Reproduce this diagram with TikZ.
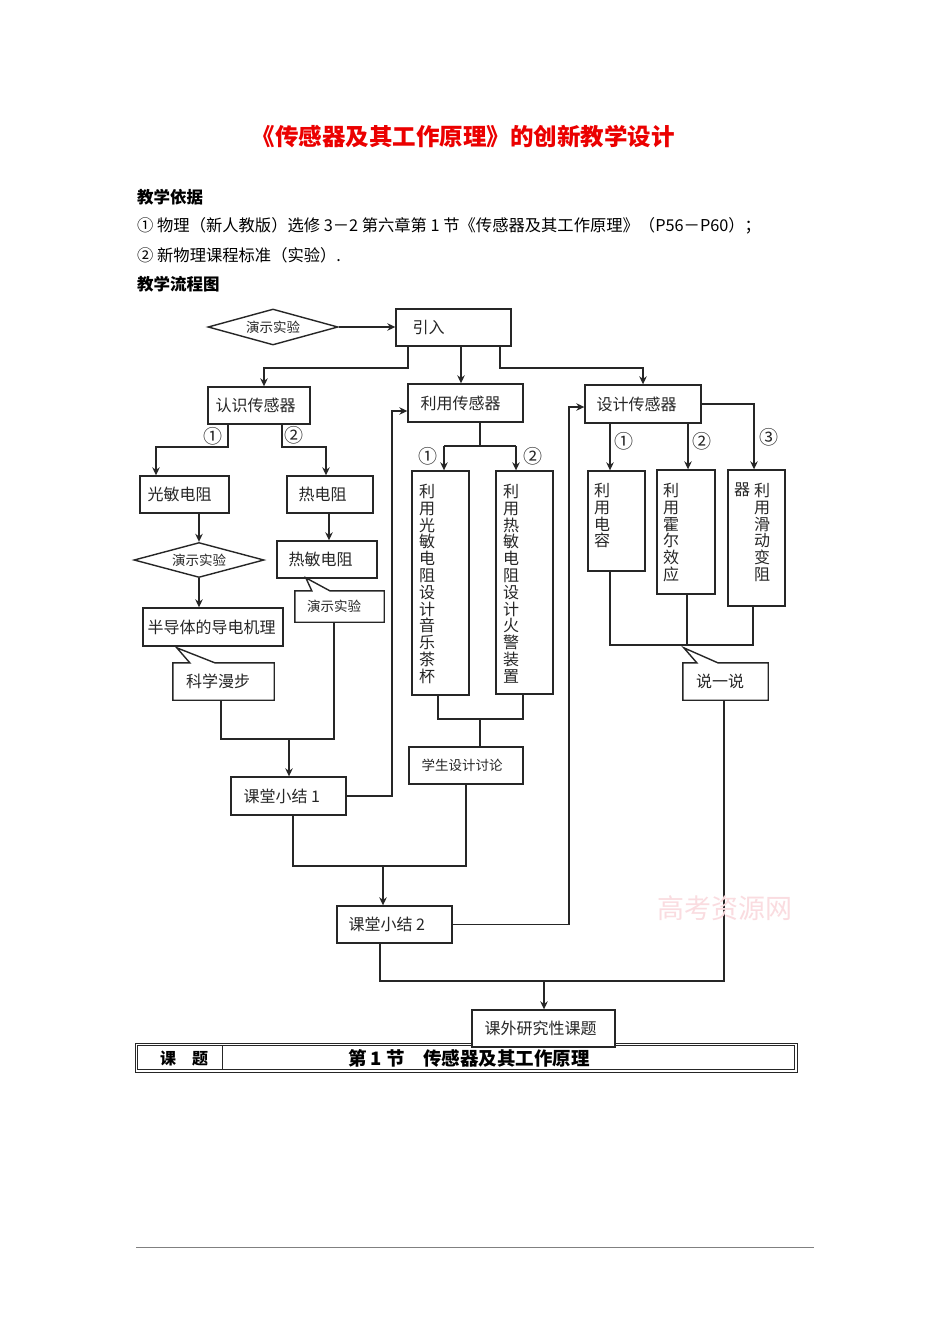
\documentclass[tikz,border=0pt]{standalone}
\usepackage{fontspec}
\setmainfont{Noto Sans CJK SC}
\usetikzlibrary{arrows.meta,shapes.geometric,calc,fit}
\begin{document}
\begin{tikzpicture}[x=1pt,y=-1pt,
  ln/.style={line width=1.2pt, draw=black!85},
  arr/.style={ln, -{Stealth[length=8pt,width=7.5pt]}},
  bx/.style={draw=black!85, line width=1.4pt, fill=white, inner sep=0pt},
  hid/.style={draw=none, inner sep=0pt},
  tx/.style={font=\fontsize{16}{18}\selectfont, text=black!85, inner sep=0pt, anchor=west},
  sm/.style={font=\fontsize{13.5}{15}\selectfont, text=black!85, inner sep=0pt},
  vt/.style={font=\fontsize{16}{16.8}\selectfont, text=black!85, inner sep=0pt, align=center, anchor=north},
  num/.style={font=\fontsize{19}{21}\selectfont, text=black!85, inner sep=0pt},
  hd/.style={font=\fontsize{16.3}{18}\selectfont, inner sep=0pt, anchor=west},
  dia/.style={bx, diamond, aspect=3.6, sm},
]
\useasboundingbox (0,0) rectangle (950,1344);
\fill[white] (0,0) rectangle (950,1344);

% ---------- header ----------
\node[font=\fontsize{23.5}{26}\selectfont\bfseries, text={rgb,255:red,235;green,0;blue,0}, inner sep=0pt] (title) at (463,137) {《传感器及其工作原理》的创新教学设计};
\node[hd, font=\fontsize{16.5}{18}\selectfont\bfseries] (h1) at (137,197) {教学依据};
\node[hd] (h2) at (137,226) {① 物理（新人教版）选修 3－2 第六章第 1 节《传感器及其工作原理》（P56－P60）；};
\node[hd] (h3) at (137,255) {② 新物理课程标准（实验）.};
\node[hd, font=\fontsize{16.5}{18}\selectfont\bfseries] (h4) at (137,284) {教学流程图};

% ---------- boxes ----------
\node[dia, minimum width=130pt, minimum height=36pt] (d1) at (273,327) {演示实验};
\node[bx, fit={(396,309) (511,346)}] (yinru) {};
\node[tx] (yinruT) at ($(yinru.west)+(17,0)$) {引入};
\node[bx, fit={(208,387) (310,424)}] (renshi) {};
\node[tx] (renshiT) at ($(renshi.west)+(8,0)$) {认识传感器};
\node[bx, fit={(408,384) (523,422)}] (liyong) {};
\node[tx] (liyongT) at ($(liyong.west)+(13,0)$) {利用传感器};
\node[bx, fit={(585,385) (701,423)}] (sheji) {};
\node[tx] (shejiT) at ($(sheji.west)+(12,0)$) {设计传感器};

\node[bx, fit={(140,476) (229,513)}] (guangmin) {};
\node[tx] (guangminT) at ($(guangmin.west)+(8,0)$) {光敏电阻};
\node[bx, fit={(287,476) (373,513)}] (redianzu) {};
\node[tx] (redianzuT) at ($(redianzu.west)+(12,0)$) {热电阻};
\node[dia, minimum width=130pt, minimum height=35pt] (d2) at (199,560) {演示实验};
\node[bx, fit={(277,541) (377,578)}] (remin) {};
\node[tx] (reminT) at ($(remin.west)+(12,0)$) {热敏电阻};
\node[bx, fit={(143,608) (283,646)}] (bandaoti) {};
\node[tx] (bandaotiT) at ($(bandaoti.west)+(5,0)$) {半导体的导电机理};

% callouts
\node[hid, fit={(173,663) (274,700)}] (kexue) {};
\draw[bx] (kexue.north west) -- ($(kexue.north west)+(17,0)$) -- ($(kexue.north west)+(4,-15)$) -- ($(kexue.north west)+(42,0)$) -- (kexue.north east) -- (kexue.south east) -- (kexue.south west) -- cycle;
\node[tx] (kexueT) at ($(kexue.west)+(13,0)$) {科学漫步};
\node[hid, fit={(295,591) (384,622)}] (yanshi) {};
\draw[bx] (yanshi.north west) -- ($(yanshi.north west)+(17,0)$) -- ($(yanshi.north west)+(11,-13)$) -- ($(yanshi.north west)+(35,0)$) -- (yanshi.north east) -- (yanshi.south east) -- (yanshi.south west) -- cycle;
\node[sm, anchor=west] (yanshiT) at ($(yanshi.west)+(12,0)$) {演示实验};

\node[bx, fit={(231,777) (346,815)}] (xj1) {};
\node[tx] (xj1T) at ($(xj1.west)+(13,0)$) {课堂小结 1};

\node[bx, fit={(412,471) (469,695)}] (v1) {};
\node[vt] (v1T) at (427,484) {利\\用\\光\\敏\\电\\阻\\设\\计\\音\\乐\\茶\\杯};
\node[bx, fit={(496,471) (553,694)}] (v2) {};
\node[vt] (v2T) at (511,484) {利\\用\\热\\敏\\电\\阻\\设\\计\\火\\警\\装\\置};
\node[bx, fit={(409,747) (523,784)}] (taolun) {};
\node[sm, anchor=west] (taolunT) at ($(taolun.west)+(13,0)$) {学生设计讨论};

\node[bx, fit={(337,906) (452,943)}] (xj2) {};
\node[tx] (xj2T) at ($(xj2.west)+(12,0)$) {课堂小结 2};

\node[bx, fit={(588,471) (645,571)}] (dianrong) {};
\node[vt] (dianrongT) at (602,483) {利\\用\\电\\容};
\node[bx, fit={(657,470) (715,594)}] (huoer) {};
\node[vt] (huoerT) at (671,483) {利\\用\\霍\\尔\\效\\应};
\node[bx, fit={(728,470) (785,606)}] (huadong) {};
\node[vt] (huadongT) at (762,483) {利\\用\\滑\\动\\变\\阻};
\node[vt] (huadongT2) at (742,483) {器};

\node[hid, fit={(683,663) (768,700)}] (shuo) {};
\draw[bx] (shuo.north west) -- ($(shuo.north west)+(14,0)$) -- ($(shuo.north west)+(1,-15)$) -- ($(shuo.north west)+(35,0)$) -- (shuo.north east) -- (shuo.south east) -- (shuo.south west) -- cycle;
\node[tx] (shuoT) at ($(shuo.west)+(13,0)$) {说一说};

% numbers
\node[num] (n1) at (213,436) {①};
\node[num] (n2) at (294,435) {②};
\node[num] (n3) at (428,456) {①};
\node[num] (n4) at (533,456) {②};
\node[num] (n5) at (624,441) {①};
\node[num] (n6) at (702,441) {②};
\node[num] (n7) at (769,437) {③};

% ---------- connectors ----------
\draw[arr] (d1.east) -- (d1.east -| yinru.west);
\coordinate (c1) at (408,368); \coordinate (c1b) at (264,368);
\draw[arr] (c1 |- yinru.south) -- (c1) -- (c1b) -- (c1b |- renshi.north);
\coordinate (c2) at (461,368);
\draw[arr] (c2 |- yinru.south) -- (c2 |- liyong.north);
\coordinate (c3) at (500,368); \coordinate (c3b) at (643,368);
\draw[arr] (c3 |- yinru.south) -- (c3) -- (c3b) -- (c3b |- sheji.north);

\coordinate (c4) at (228,447); \coordinate (c4b) at (156,447);
\draw[arr] (c4 |- renshi.south) -- (c4) -- (c4b) -- (c4b |- guangmin.north);
\coordinate (c5) at (282,447); \coordinate (c5b) at (326,447);
\draw[arr] (c5 |- renshi.south) -- (c5) -- (c5b) -- (c5b |- redianzu.north);

\draw[arr] (d2.north |- guangmin.south) -- (d2.north);
\draw[arr] (d2.south) -- (d2.south |- bandaoti.north);
\coordinate (c5c) at (329,500);
\draw[arr] (c5c |- redianzu.south) -- (c5c |- remin.north);

\coordinate (c6) at (221,739); \coordinate (c6b) at (334,739);
\draw[ln] (c6 |- kexue.south) -- (c6) -- (c6b) -- (c6b |- yanshi.south);
\coordinate (c7) at (289,739);
\draw[arr] (c7) -- (c7 |- xj1.north);

\coordinate (c8) at (392,795); \coordinate (c8b) at (392,411);
\draw[arr] (xj1.east) -- (xj1.east -| c8) -- (c8b) -- (c8b -| liyong.west);

\coordinate (c9) at (480,446); \coordinate (c9a) at (444,446); \coordinate (c9b) at (516,446);
\draw[ln] (c9 |- liyong.south) -- (c9);
\draw[ln] (c9a) -- (c9b);
\draw[arr] (c9a) -- (c9a |- v1.north);
\draw[arr] (c9b) -- (c9b |- v2.north);

\coordinate (c10a) at (438,719); \coordinate (c10b) at (523,719); \coordinate (c10) at (480,719);
\draw[ln] (c10a |- v1.south) -- (c10a) -- (c10b) -- (c10b |- v2.south);
\draw[ln] (c10) -- (c10 |- taolun.north);

\coordinate (c11) at (466,866); \coordinate (c11b) at (293,866); \coordinate (c12) at (383,866);
\draw[ln] (c11 |- taolun.south) -- (c11) -- (c11b) -- (c11b |- xj1.south);
\draw[arr] (c12) -- (c12 |- xj2.north);

\coordinate (c13) at (569,925); \coordinate (c13b) at (569,407);
\draw[arr] (xj2.east) -- (xj2.east -| c13) -- (c13b) -- (c13b -| sheji.west);

\coordinate (c14) at (610,440);
\draw[arr] (c14 |- sheji.south) -- (c14 |- dianrong.north);
\coordinate (c15) at (688,440);
\draw[arr] (c15 |- sheji.south) -- (c15 |- huoer.north);
\coordinate (c16) at (754,406);
\draw[arr] (sheji.east) -- (sheji.east -| c16) -- (c16 |- huadong.north);

\coordinate (c17a) at (610,645); \coordinate (c17b) at (687,645); \coordinate (c17c) at (753,645);
\draw[ln] (c17a |- dianrong.south) -- (c17a) -- (c17c) -- (c17c |- huadong.south);
\draw[ln] (c17b |- huoer.south) -- (c17b);

\coordinate (c18) at (724,981); \coordinate (c18b) at (380,981); \coordinate (c19) at (544,981);
\draw[ln] (c18 |- shuo.south) -- (c18) -- (c18b) -- (c18b |- xj2.south);

% ---------- table ----------
\draw[black!85, line width=0.9pt] (135,1043) rectangle (797,1072);
\draw[black!85, line width=0.6pt] (137.5,1045.5) rectangle (794.5,1069.5);
\draw[black!85, line width=0.8pt] (222,1045.5) -- (222,1069.5);
\node[font=\fontsize{16}{18}\selectfont\bfseries, inner sep=0pt] (tk) at (184,1058) {课\hspace{1em}题};
\node[font=\fontsize{18.5}{20}\selectfont\bfseries, inner sep=0pt] (tt) at (469,1058) {第 1 节\hspace{1em}传感器及其工作原理};

\node[bx, fit={(472,1010) (615,1047)}] (yanjiu) {};
\node[tx] (yanjiuT) at ($(yanjiu.west)+(13,0)$) {课外研究性课题};
\draw[arr] (c19) -- (c19 |- yanjiu.north);

% watermark and footer rule
\node[text={rgb,255:red,250;green,220;blue,224}, font=\fontsize{27}{29}\selectfont, inner sep=0pt] (wm) at (725,908) {高考资源网};
\draw[black!50, line width=0.8pt] (136,1247) -- (814,1247);
\end{tikzpicture}
\end{document}
